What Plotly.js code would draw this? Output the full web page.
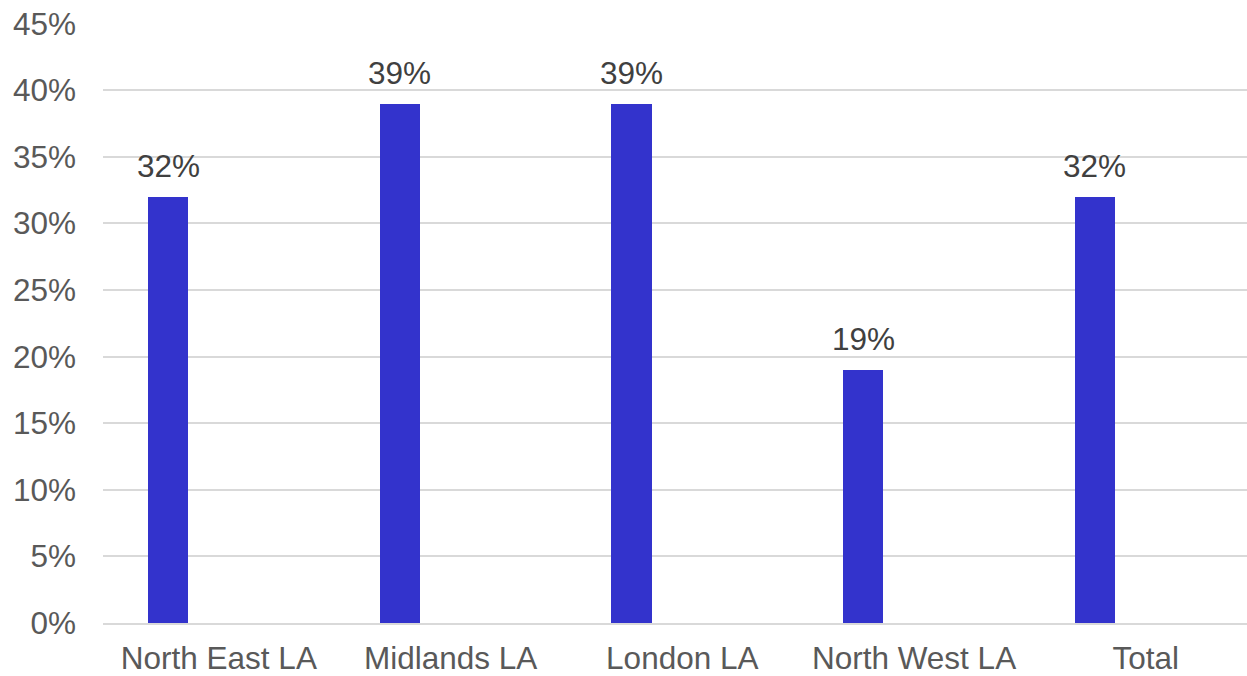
<!DOCTYPE html>
<html>
<head>
<meta charset="utf-8">
<script src="https://cdn.plot.ly/plotly-3.0.1.min.js"></script>
<style>
  html, body { margin: 0; padding: 0; background: #ffffff; }
  #chart { width: 1247px; height: 676px; }
</style>
</head>
<body>
<div id="chart"></div>
<script>
// Share of respondents by local authority area
const categories = ["North East LA", "Midlands LA", "London LA", "North West LA", "Total"];
const shares = [32, 39, 39, 19, 32];            // percent
const yTickValues = [0, 5, 10, 15, 20, 25, 30, 35, 40, 45];
const yTickLabels = ["0%", "5%", "10%", "15%", "20%", "25%", "30%", "35%", "40%", "45%"];

const barWidth = 0.174;    // in category units
const barOffset = -0.306;  // left edge relative to category centre
const fontFamily = "Liberation Sans, Arial, sans-serif";
const fontSize = 31.5;

const bars = {
  type: "bar",
  x: categories,
  y: shares,
  width: barWidth,
  offset: barOffset,
  marker: { color: "#3333CC", line: { width: 0 } },
  hoverinfo: "skip",
  showlegend: false
};

// value labels sitting above each bar
const labels = shares.map((v, i) => ({
  xref: "x", yref: "y",
  x: i + barOffset + barWidth / 2,
  y: v,
  text: v + "%",
  showarrow: false,
  yanchor: "bottom",
  yshift: 11,
  font: { family: fontFamily, size: fontSize, color: "#404040" }
}));

const layout = {
  width: 1247,
  height: 676,
  margin: { l: 103, r: 0, t: 22.5, b: 52.5, pad: 0 },
  paper_bgcolor: "#ffffff",
  plot_bgcolor: "#ffffff",
  font: { family: fontFamily, size: fontSize, color: "#595959" },
  bargap: 0,
  xaxis: {
    type: "category",
    range: [-0.5, 4.437],
    showgrid: false,
    zeroline: false,
    showline: true,
    linecolor: "#D9D9D9",
    linewidth: 2,
    ticks: "",
    ticklabelstandoff: 6,
    tickfont: { size: fontSize, color: "#595959" },
    automargin: false,
    fixedrange: true
  },
  yaxis: {
    range: [0, 45.05],
    tickvals: yTickValues,
    ticktext: yTickLabels,
    showgrid: true,
    gridcolor: "#D9D9D9",
    gridwidth: 2,
    zeroline: false,
    showline: false,
    ticks: "",
    ticklabelstandoff: 26,
    tickfont: { size: fontSize, color: "#595959" },
    automargin: false,
    fixedrange: true
  },
  annotations: labels
};

Plotly.newPlot("chart", [bars], layout, { displayModeBar: false, staticPlot: true });
</script>
</body>
</html>
